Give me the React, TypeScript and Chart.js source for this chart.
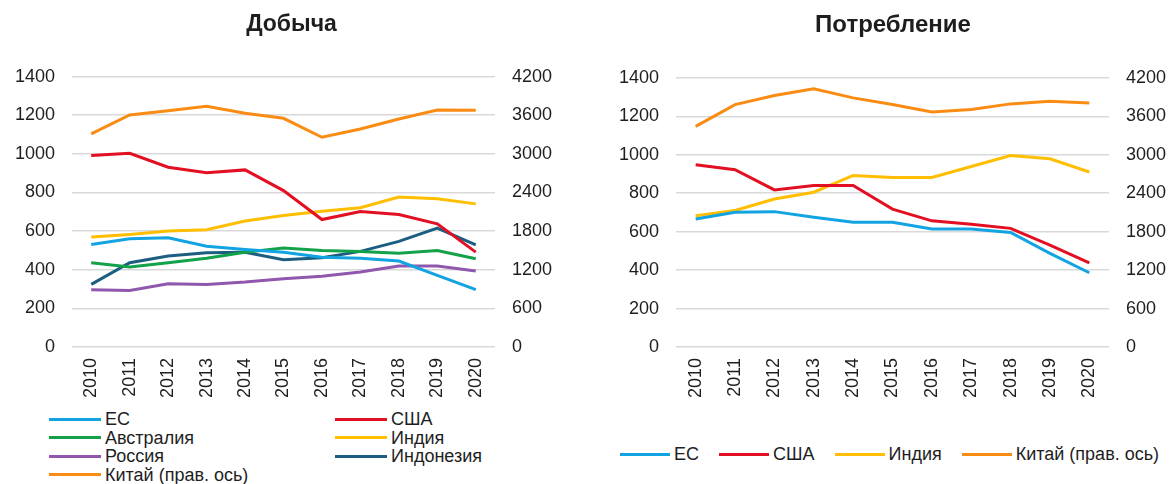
import React, { useEffect, useRef } from "react";
import { Chart, registerables } from "chart.js";

Chart.register(...registerables);

const years = ["2010", "2011", "2012", "2013", "2014", "2015", "2016", "2017", "2018", "2019", "2020"];

// Добыча
const prodEU = [531, 560, 565, 522, 505, 491, 465, 460, 445, 371, 297];
const prodUSA = [991, 1003, 931, 902, 917, 810, 660, 702, 686, 638, 491];
const prodAustralia = [436, 414, 436, 460, 491, 512, 500, 495, 486, 500, 457];
const prodIndia = [569, 583, 600, 607, 652, 681, 703, 721, 776, 767, 741];
const prodRussia = [297, 293, 328, 324, 336, 353, 366, 388, 419, 419, 393];
const prodIndonesia = [324, 436, 471, 488, 491, 452, 462, 495, 547, 616, 529];
const prodChina = [3310, 3604, 3671, 3739, 3630, 3552, 3258, 3387, 3542, 3682, 3677];

// Потребление
const consEU = [666, 701, 704, 675, 649, 649, 614, 614, 596, 487, 386];
const consUSA = [948, 922, 817, 840, 840, 717, 656, 638, 617, 530, 438];
const consIndia = [682, 710, 770, 805, 892, 882, 882, 939, 996, 979, 910];
const consChina = [3443, 3782, 3923, 4028, 3887, 3782, 3668, 3704, 3793, 3834, 3808];

const titles = ["Добыча", "Потребление"];
const labelsProd = ["ЕС", "США", "Австралия", "Индия", "Россия", "Индонезия", "Китай (прав. ось)"];
const labelsCons = ["ЕС", "США", "Индия", "Китай (прав. ось)"];

const C_EU = "#12A3E3";
const C_USA = "#E30F23";
const C_AUS = "#13A14A";
const C_IND = "#FFBE00";
const C_RUS = "#8F57AE";
const C_INDO = "#1B5E82";
const C_CHN = "#FA8C14";

const FONT = "'Liberation Sans', Arial, sans-serif";
const TEXT = "#1E1E1E";

type DS = { label: string; data: number[]; color: string; axis: string };

function LineChart(props: {
  left: number; top: number; width: number; height: number; title: string; titleSize: number;
  datasets: DS[]; leftW: number; rightW: number;
}) {
  const ref = useRef<HTMLCanvasElement>(null);
  useEffect(() => {
    const chart = new Chart(ref.current as HTMLCanvasElement, {
      type: "line",
      data: {
        labels: years,
        datasets: props.datasets.map((d) => ({
          label: d.label,
          data: d.data,
          borderColor: d.color,
          backgroundColor: d.color,
          borderWidth: 3,
          pointRadius: 0,
          tension: 0,
          yAxisID: d.axis,
        })),
      },
      options: {
        responsive: false,
        animation: false,
        devicePixelRatio: 1,
        layout: { padding: 0 },
        plugins: {
          legend: { display: false },
          tooltip: { enabled: false },
          title: {
            display: true,
            text: props.title,
            color: TEXT,
            font: { family: FONT, size: props.titleSize, weight: "bold" },
            padding: { top: 11, bottom: 38 },
          },
        },
        scales: {
          x: {
            offset: true,
            grid: { display: false, drawTicks: false },
            border: { display: false },
            ticks: {
              autoSkip: false,
              maxRotation: 90,
              minRotation: 90,
              padding: 11,
              color: TEXT,
              font: { family: FONT, size: 18 },
            },
            afterFit: (s: any) => { s.height = 60; },
          },
          y: {
            position: "left",
            min: 0,
            max: 1400,
            ticks: {
              stepSize: 200, padding: 17, color: TEXT, font: { family: FONT, size: 18 },
              callback: (v: any) => String(v),
            },
            grid: { color: "#D9D9D9", lineWidth: 1.5, drawTicks: false },
            border: { display: false },
            afterFit: (s: any) => { s.width = props.leftW; },
          },
          y1: {
            position: "right",
            min: 0,
            max: 4200,
            ticks: {
              stepSize: 600, padding: 17, color: TEXT, font: { family: FONT, size: 18 },
              callback: (v: any) => String(v),
            },
            grid: { display: false, drawTicks: false },
            border: { display: false },
            afterFit: (s: any) => { s.width = props.rightW; },
          },
        },
      } as any,
    });
    return () => chart.destroy();
  }, []);
  return (
    <canvas
      ref={ref}
      width={props.width}
      height={props.height}
      style={{ position: "absolute", left: props.left, top: props.top, width: props.width, height: props.height }}
    />
  );
}

function LegendItem({ label, color, lineW }: { label: string; color: string; lineW: number }) {
  return (
    <span style={{ display: "inline-flex", alignItems: "center", whiteSpace: "nowrap" }}>
      <span style={{ display: "inline-block", width: lineW, height: 3, background: color, marginRight: 4 }} />
      <span>{label}</span>
    </span>
  );
}

export default function App() {
  const prodSets: DS[] = [
    { label: labelsProd[0], data: prodEU, color: C_EU, axis: "y" },
    { label: labelsProd[1], data: prodUSA, color: C_USA, axis: "y" },
    { label: labelsProd[2], data: prodAustralia, color: C_AUS, axis: "y" },
    { label: labelsProd[3], data: prodIndia, color: C_IND, axis: "y" },
    { label: labelsProd[4], data: prodRussia, color: C_RUS, axis: "y" },
    { label: labelsProd[5], data: prodIndonesia, color: C_INDO, axis: "y" },
    { label: labelsProd[6], data: prodChina, color: C_CHN, axis: "y1" },
  ];
  const consSets: DS[] = [
    { label: labelsCons[0], data: consEU, color: C_EU, axis: "y" },
    { label: labelsCons[1], data: consUSA, color: C_USA, axis: "y" },
    { label: labelsCons[2], data: consIndia, color: C_IND, axis: "y" },
    { label: labelsCons[3], data: consChina, color: C_CHN, axis: "y1" },
  ];
  const textStyle: React.CSSProperties = { fontFamily: FONT, fontSize: 18, color: TEXT, lineHeight: "18.5px" };
  return (
    <div style={{ position: "absolute", left: 0, top: 0, width: 1172, height: 484, background: "#fff", overflow: "hidden" }}>
      <LineChart left={0} top={0} width={583} height={407} title={titles[0]} titleSize={23} datasets={prodSets} leftW={72} rightW={88} />
      <LineChart left={614} top={0} width={558} height={407} title={titles[1]} titleSize={24} datasets={consSets} leftW={62} rightW={63} />
      <div style={{ ...textStyle, position: "absolute", left: 49, top: 410, display: "grid", gridTemplateColumns: "286px auto" }}>
        {prodSets.map((d) => (
          <LegendItem key={d.label} label={d.label} color={d.color} lineW={52} />
        ))}
      </div>
      <div style={{ ...textStyle, position: "absolute", left: 620, top: 445, display: "flex", gap: 20 }}>
        {consSets.map((d) => (
          <LegendItem key={d.label} label={d.label} color={d.color} lineW={50} />
        ))}
      </div>
    </div>
  );
}
